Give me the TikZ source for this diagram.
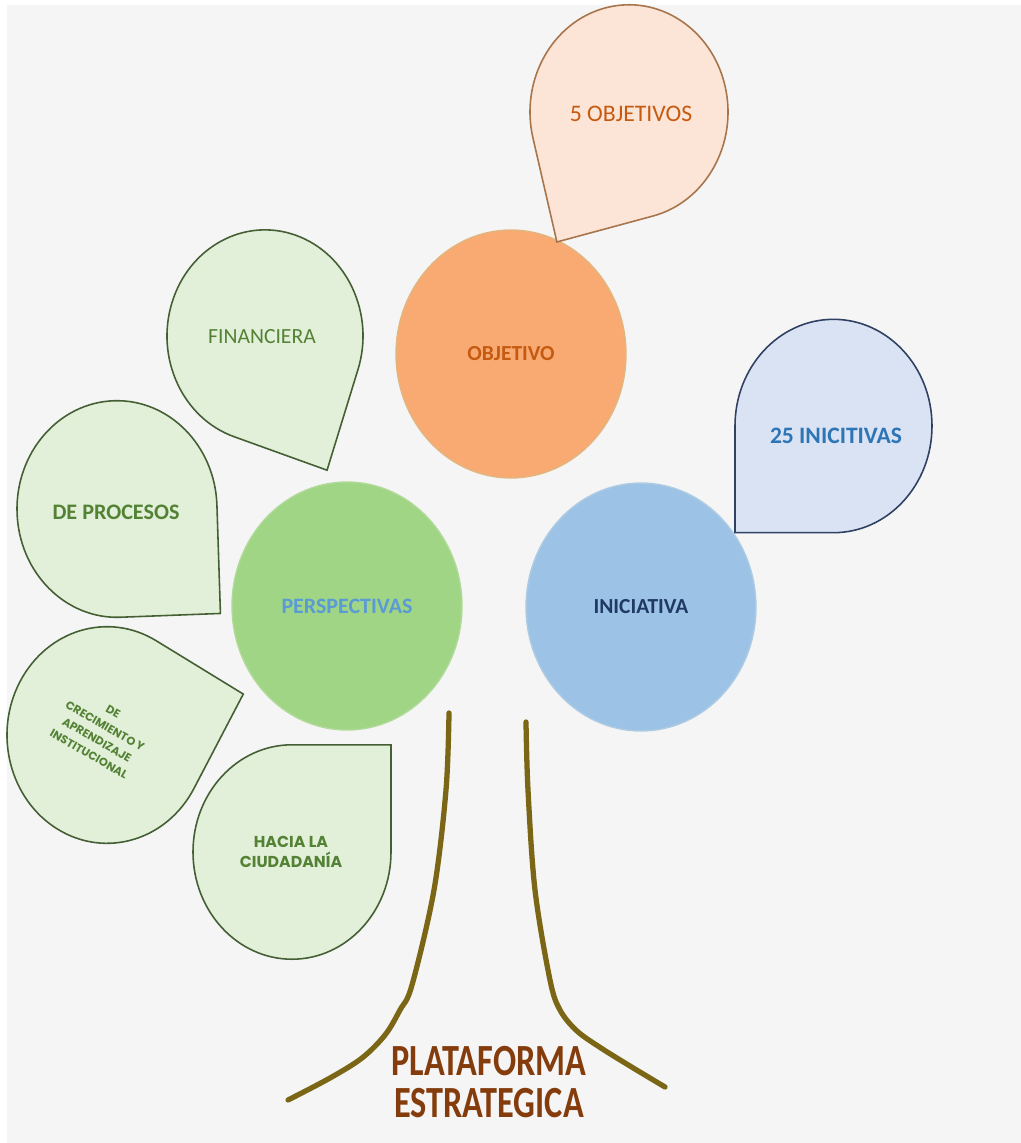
\documentclass[tikz,border=0pt]{standalone}
\usepackage{fontspec}
\setmainfont{Carlito}
\newfontfamily\gothic{Poppins}
\usetikzlibrary{shapes.geometric}
\definecolor{bg}{HTML}{F5F5F5}
\definecolor{orfill}{HTML}{F8AA72}
\definecolor{orline}{HTML}{E2B680}
\definecolor{ortext}{HTML}{C55A11}
\definecolor{grfill}{HTML}{9FD585}
\definecolor{grline}{HTML}{B0DA98}
\definecolor{blfill}{HTML}{9CC3E6}
\definecolor{blline}{HTML}{AECBE3}
\definecolor{gdfill}{HTML}{E2F0D9}
\definecolor{gdline}{HTML}{435F33}
\definecolor{gdtext}{HTML}{548235}
\definecolor{odfill}{HTML}{FCE4D6}
\definecolor{odline}{HTML}{A8744C}
\definecolor{bdfill}{HTML}{DAE3F3}
\definecolor{bdline}{HTML}{2F4163}
\definecolor{bdtext}{HTML}{2E75B6}
\definecolor{navy}{HTML}{1F3864}
\definecolor{persp}{HTML}{5B9BD5}
\definecolor{trunkc}{HTML}{7A6614}
\definecolor{brown}{HTML}{843C0C}
\newcommand\tdrop[5]{%
  \begin{scope}[shift={(#1,-#2)}, yscale=1.083, rotate=#4]
    \draw[#5] (45:#3) arc[start angle=45, delta angle=270, radius=#3] -- (0:{#3*1.41421}) -- cycle;
  \end{scope}}
\tikzset{
  bigc/.style={ellipse, inner sep=0pt, minimum width=4.6cm, minimum height=4.96cm, line width=0.8pt,
    font=\fontsize{12.2}{14}\selectfont\bfseries},
  gdrop/.style={fill=gdfill, draw=gdline, line width=0.9pt},
  odrop/.style={fill=odfill, draw=odline, line width=0.9pt},
  bdrop/.style={fill=bdfill, draw=bdline, line width=0.9pt},
  trunk/.style={draw=trunkc, line width=3pt, line cap=round, line join=round},
  lbl/.style={inner sep=0pt, align=center}
}
\begin{document}
\begin{tikzpicture}[x=0.02cm, y=0.02cm]
\useasboundingbox (0,0) rectangle (1021,-1143);
\fill[white] (0,0) rectangle (1021,-1143);
\fill[bg] (7,-5) rectangle (1021,-1143);

% big circles
\node[bigc, fill=orfill, draw=orline, text=ortext] (obj) at (511,-354) {OBJETIVO};
\node[bigc, fill=grfill, draw=grline, text=persp, font=\fontsize{12.5}{14}\selectfont\bfseries] (per) at (347,-606) {PERSPECTIVAS};
\node[bigc, fill=blfill, draw=blline, text=navy] (ini) at (641,-607) {INICIATIVA};

% teardrops
\tdrop{629}{112}{99}{239}{odrop}
\tdrop{265}{336}{98}{296.6}{gdrop}
\tdrop{117}{509}{100}{-43}{gdrop}
\tdrop{107}{735}{100}{15.5}{gdrop}
\tdrop{292}{852}{99}{45}{gdrop}
\tdrop{833.5}{426}{98.5}{225}{bdrop}

% teardrop labels
\node[lbl, text=ortext, font=\fontsize{13.5}{16}\selectfont] (objs) at (631,-114) {5 OBJETIVOS};
\node[lbl, text=gdtext, font=\fontsize{12.3}{14}\selectfont] (fin) at (262,-337) {FINANCIERA};
\node[lbl, text=gdtext, font=\fontsize{12.6}{14}\selectfont\bfseries] (proc) at (116,-512) {DE PROCESOS};
\node[lbl, text=gdtext, font=\gothic\fontsize{6.5}{9.2}\selectfont\bfseries, rotate=-30] (crec) at (101,-733)
  {DE\\CRECIMIENTO Y\\APRENDIZAJE\\INSTITUCIONAL};
\node[lbl, text=gdtext, font=\gothic\fontsize{9}{11.3}\selectfont\bfseries] (ciud) at (291,-852) {HACIA LA\\CIUDADANÍA};
\node[lbl, text=bdtext, font=\fontsize{13.4}{16}\selectfont\bfseries] (inis) at (836,-436) {25 INICITIVAS};

% trunk
\draw[trunk] plot[smooth, tension=0.55] coordinates {(449,-713) (446,-790) (434,-890) (412,-985) (400,-1010) (385,-1035) (362,-1058) (330,-1078) (288,-1100)};
\draw[trunk] plot[smooth, tension=0.55] coordinates {(526,-722) (528,-790) (535,-890) (550,-980) (560,-1010) (577,-1031) (601,-1048) (630,-1066) (665,-1087)};

% base label
\node[lbl, anchor=base, text=brown, font=\fontsize{19.5}{22}\selectfont\bfseries, yscale=1.3, transform shape] (plat) at (489,-1075) {PLATAFORMA};
\node[lbl, anchor=base, text=brown, font=\fontsize{19.5}{22}\selectfont\bfseries, yscale=1.3, transform shape] (estr) at (489,-1117) {ESTRATEGICA};
\end{tikzpicture}
\end{document}
